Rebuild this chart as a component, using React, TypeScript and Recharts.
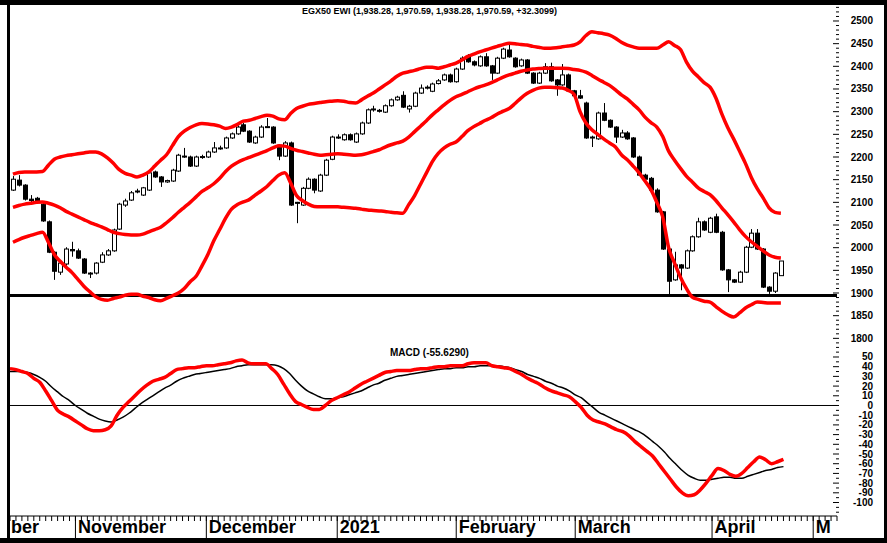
import React from 'react';
import { ComposedChart, Bar, Line, XAxis, YAxis, ReferenceLine } from 'recharts';

const TITLE = 'EGX50 EWI (1,938.28, 1,970.59, 1,938.28, 1,970.59, +32.3099)';
const MACD_TITLE = 'MACD (-55.6290)';
const FONT = '"Liberation Sans", Arial, sans-serif';

// one slot per trading day, the last ones are empty (future dates)
const SLOTS = 140;

// [open, high, low, close]
const candles: number[][] = [
  [2127, 2158, 2125, 2151], [2149, 2160, 2135, 2138], [2138, 2140, 2104, 2107], [2107, 2116, 2100, 2104],
  [2109, 2112, 2098, 2100], [2096, 2100, 2057, 2059], [2057, 2060, 1988, 1990], [1990, 1992, 1929, 1948],
  [1946, 1970, 1940, 1966], [1964, 2001, 1960, 1997], [1996, 2013, 1980, 1993], [1993, 1998, 1975, 1977],
  [1975, 1977, 1942, 1944], [1944, 1946, 1933, 1943], [1944, 1968, 1941, 1966], [1968, 1990, 1966, 1984],
  [1984, 1997, 1982, 1993], [1993, 2042, 1991, 2039], [2041, 2099, 2039, 2096], [2094, 2108, 2090, 2103],
  [2105, 2125, 2103, 2121], [2124, 2130, 2120, 2125], [2116, 2134, 2114, 2132], [2127, 2168, 2125, 2165],
  [2167, 2170, 2154, 2156], [2156, 2158, 2134, 2145], [2145, 2150, 2143, 2148], [2147, 2174, 2145, 2171],
  [2169, 2207, 2167, 2204], [2200, 2220, 2198, 2202], [2200, 2203, 2178, 2180], [2180, 2203, 2178, 2200],
  [2199, 2205, 2196, 2201], [2200, 2214, 2198, 2211], [2211, 2233, 2209, 2220], [2218, 2225, 2216, 2220],
  [2220, 2245, 2218, 2242], [2242, 2254, 2240, 2251], [2251, 2270, 2249, 2266], [2271, 2275, 2255, 2257],
  [2257, 2259, 2231, 2233], [2231, 2247, 2229, 2244], [2244, 2270, 2242, 2266], [2266, 2286, 2264, 2267],
  [2266, 2268, 2229, 2231], [2226, 2228, 2193, 2202], [2202, 2235, 2200, 2231], [2231, 2234, 2092, 2094],
  [2100, 2101, 2054, 2098], [2094, 2134, 2092, 2131], [2131, 2155, 2129, 2151], [2151, 2153, 2120, 2127],
  [2125, 2163, 2123, 2160], [2160, 2196, 2158, 2193], [2195, 2247, 2193, 2244], [2242, 2250, 2240, 2244],
  [2238, 2252, 2236, 2249], [2249, 2252, 2236, 2238], [2233, 2254, 2231, 2251], [2251, 2278, 2249, 2275],
  [2275, 2307, 2273, 2304], [2304, 2313, 2300, 2306], [2303, 2306, 2298, 2301], [2299, 2316, 2297, 2313],
  [2313, 2329, 2311, 2326], [2326, 2335, 2324, 2332], [2336, 2345, 2308, 2310], [2306, 2315, 2298, 2312],
  [2312, 2344, 2310, 2341], [2341, 2360, 2339, 2352], [2352, 2358, 2349, 2354], [2345, 2364, 2343, 2361],
  [2362, 2372, 2360, 2368], [2370, 2384, 2368, 2381], [2381, 2384, 2364, 2366], [2366, 2397, 2364, 2394],
  [2394, 2422, 2392, 2418], [2421, 2427, 2408, 2410], [2410, 2413, 2400, 2403], [2401, 2424, 2399, 2421],
  [2421, 2429, 2399, 2401], [2401, 2403, 2370, 2385], [2385, 2421, 2383, 2418], [2418, 2441, 2416, 2438],
  [2436, 2449, 2419, 2421], [2418, 2420, 2397, 2399], [2401, 2417, 2399, 2414], [2414, 2416, 2383, 2385],
  [2385, 2387, 2361, 2363], [2363, 2388, 2361, 2385], [2385, 2407, 2383, 2399], [2399, 2408, 2366, 2368],
  [2370, 2372, 2335, 2359], [2359, 2405, 2357, 2381], [2381, 2384, 2344, 2346], [2346, 2348, 2333, 2335],
  [2335, 2348, 2328, 2330], [2319, 2322, 2240, 2242], [2243, 2247, 2222, 2244], [2240, 2300, 2238, 2297],
  [2297, 2319, 2279, 2281], [2281, 2283, 2264, 2266], [2266, 2268, 2231, 2244], [2244, 2260, 2242, 2253],
  [2253, 2257, 2238, 2240], [2242, 2244, 2198, 2200], [2200, 2203, 2158, 2160], [2160, 2163, 2149, 2151],
  [2153, 2156, 2125, 2127], [2127, 2131, 2077, 2079], [2079, 2081, 1995, 1997], [1997, 1999, 1895, 1926],
  [1929, 1991, 1927, 1962], [1962, 1964, 1906, 1955], [1955, 1996, 1953, 1993], [1993, 2027, 1991, 2024],
  [2024, 2066, 2022, 2057], [2057, 2060, 2037, 2039], [2034, 2068, 2032, 2065], [2068, 2075, 2032, 2034],
  [2034, 2037, 1949, 1951], [1951, 1953, 1902, 1929], [1929, 1931, 1922, 1924], [1924, 1949, 1922, 1946],
  [1946, 2004, 1944, 2001], [2001, 2041, 1999, 2032], [2032, 2041, 1995, 1997], [1997, 1999, 1911, 1913],
  [1913, 1915, 1898, 1904], [1904, 1946, 1900, 1944], [1938.28, 1970.59, 1938.28, 1970.59],
];

const bbUpper = [
  2162, 2166, 2167, 2167, 2167, 2168, 2182, 2195, 2200, 2203, 2205, 2207, 2209, 2211, 2211, 2207,
  2198, 2186, 2172, 2164, 2160, 2156, 2160, 2167, 2180, 2193, 2205, 2225, 2245, 2257, 2265, 2271,
  2274, 2273, 2271, 2268, 2263, 2266, 2272, 2279, 2281, 2285, 2289, 2292, 2290, 2284, 2282, 2296,
  2307, 2312, 2316, 2318, 2320, 2322, 2323, 2324, 2323, 2320, 2319, 2326, 2334, 2341, 2350, 2359,
  2368, 2378, 2385, 2388, 2391, 2395, 2398, 2398, 2396, 2399, 2403, 2407, 2414, 2422, 2427, 2432,
  2436, 2440, 2444, 2448, 2451, 2450, 2448, 2447, 2444, 2442, 2440, 2440, 2441, 2443, 2445, 2447,
  2454, 2468, 2476, 2474, 2472, 2469, 2462, 2453, 2447, 2443, 2440, 2440, 2440, 2440, 2447, 2454,
  2446, 2437, 2410, 2390, 2377, 2364, 2354, 2330, 2295, 2265, 2240, 2213, 2186, 2155, 2130, 2110,
  2088, 2078, 2076,
];

const bbMiddle = [
  2089, 2093, 2096, 2098, 2100, 2101, 2098, 2094, 2088, 2080, 2074, 2068, 2062, 2056, 2051, 2046,
  2040, 2034, 2031, 2029, 2028, 2028, 2030, 2035, 2040, 2045, 2055, 2066, 2078, 2089, 2100, 2112,
  2124, 2132, 2141, 2153, 2168, 2180, 2188, 2194, 2199, 2204, 2209, 2214, 2220, 2225, 2224, 2219,
  2215, 2212, 2209, 2206, 2204, 2205, 2206, 2207, 2206, 2205, 2204, 2205, 2208, 2212, 2216, 2222,
  2227, 2231, 2235, 2244, 2256, 2268, 2280, 2293, 2304, 2315, 2325, 2333, 2338, 2344, 2350, 2355,
  2359, 2364, 2370, 2376, 2381, 2385, 2389, 2392, 2394, 2395, 2396, 2396, 2396, 2396, 2395, 2393,
  2391, 2387, 2380, 2372, 2365, 2358, 2348, 2337, 2328, 2316, 2304, 2288, 2276, 2266, 2245, 2213,
  2193, 2175, 2158, 2145, 2132, 2124, 2117, 2104, 2088, 2073, 2057, 2040, 2025, 2013, 2003, 1993,
  1984, 1979, 1977,
];

const bbLower = [
  2012, 2018, 2023, 2027, 2031, 2034, 2012, 1985, 1970, 1957, 1945, 1930, 1915, 1903, 1892, 1886,
  1884, 1888, 1891, 1895, 1897, 1897, 1893, 1890, 1885, 1883, 1888, 1894, 1900, 1910, 1925, 1937,
  1960, 1985, 2015, 2040, 2065, 2085, 2095, 2101, 2106, 2116, 2125, 2135, 2148, 2160, 2165, 2143,
  2115, 2104, 2096, 2091, 2090, 2090, 2090, 2090, 2089, 2088, 2087, 2085, 2083, 2082, 2081, 2080,
  2078, 2077, 2076, 2095, 2115, 2140, 2165, 2190, 2208, 2220, 2228, 2233, 2245, 2258, 2267, 2274,
  2281, 2287, 2295, 2301, 2307, 2318, 2330, 2340, 2347, 2352, 2354, 2354, 2353, 2352, 2347, 2338,
  2300, 2275, 2260, 2250, 2240, 2231, 2222, 2205, 2194, 2180, 2165, 2147, 2128, 2100, 2068, 2000,
  1966, 1935, 1910, 1891, 1886, 1882, 1880, 1870, 1860, 1852, 1847, 1856, 1867, 1874, 1880, 1879,
  1878, 1878, 1878,
];

const macdLine = [
  38, 37, 35, 33, 28, 24, 15, 5, -5, -9, -12, -16, -20, -24, -26, -26,
  -25, -21, -10, -2, 4, 10, 16, 21, 25, 27, 29, 33, 37, 38, 39, 39,
  40, 41, 41, 42, 43, 44, 46, 47, 44, 43, 43, 43, 38, 32, 22, 12,
  4, 1, -2, -4, -4, 0, 5, 8, 11, 14, 18, 22, 25, 28, 31, 34,
  35, 36, 36, 36, 37, 38, 38, 39, 40, 40, 41, 41, 41, 43, 44, 44,
  44, 41, 40, 39, 38, 35, 32, 28, 25, 22, 18, 15, 13, 11, 9, 4,
  -2, -10, -15, -17, -19, -22, -25, -27, -31, -37, -42, -47, -52, -60, -68, -76,
  -84, -90, -93, -92, -87, -80, -72, -65, -67, -71, -73, -70, -64, -58, -53, -56,
  -60, -58, -55.6,
];

const signalLine = [
  35, 35, 35, 34, 32, 29, 25, 19, 14, 9, 5, 0, -4, -8, -11, -14,
  -16, -17, -15, -12, -8, -3, 2, 6, 10, 14, 18, 21, 25, 28, 30, 32,
  33, 34, 35, 36, 37, 38, 40, 41, 42, 42, 42, 42, 42, 41, 38, 33,
  26, 20, 15, 12, 9, 7, 7, 8, 9, 11, 13, 15, 18, 21, 23, 26,
  28, 30, 31, 32, 33, 34, 35, 36, 37, 38, 38, 39, 39, 40, 40, 41,
  41, 41, 41, 40, 39, 37, 35, 32, 30, 28, 25, 23, 20, 18, 15, 11,
  8, 3, -2, -7, -10, -13, -16, -19, -22, -25, -28, -32, -37, -42, -48, -55,
  -61, -67, -72, -75, -77, -77, -76, -75, -74, -74, -75, -75, -73, -71, -69, -67,
  -66, -64, -63,
];

// first trading day of each month (slot index); the first one is the cut-off tail of October
const monthStarts = [
  { i: 0, label: 'ber' },
  { i: 11, label: 'November' },
  { i: 33, label: 'December' },
  { i: 55, label: '2021' },
  { i: 75, label: 'February' },
  { i: 95, label: 'March' },
  { i: 118, label: 'April' },
  { i: 135, label: 'M' },
];

const priceLabels = [1800, 1850, 1900, 1950, 2000, 2050, 2100, 2150, 2200, 2250, 2300, 2350, 2400, 2450, 2500];
const macdLabels = [-100, -90, -80, -70, -60, -50, -40, -30, -20, -10, 0, 10, 20, 30, 40, 50];
const SUPPORT = 1894.5;

const PRICE_DOMAIN = [1774.3, 2546.3];
const MACD_DOMAIN = [-113.9, 57.2];
const AXIS_W = 50;

const priceMarks: number[] = [];
for (let v = 1780; v <= 2540; v += 10) priceMarks.push(v);
const macdMarks: number[] = [];
for (let v = -110; v <= 55; v += 5) macdMarks.push(v);

const data = Array.from({ length: SLOTS }, (_, i) => {
  const c = candles[i];
  return {
    i,
    range: c ? [c[2], c[1]] : null,
    open: c ? c[0] : null,
    high: c ? c[1] : null,
    low: c ? c[2] : null,
    close: c ? c[3] : null,
    upper: bbUpper[i] ?? null,
    middle: bbMiddle[i] ?? null,
    lower: bbLower[i] ?? null,
    macd: macdLine[i] ?? null,
    signal: signalLine[i] ?? null,
  };
});

const Candle = (props: any) => {
  const { x, y, width, height, payload } = props;
  if (!payload || payload.high == null) return null;
  const { open, close, high, low } = payload;
  const top = Math.min(y, y + height);
  const h = Math.abs(height);
  const k = high > low ? h / (high - low) : 0;
  const py = (v: number) => top + (high - v) * k;
  const cx = Math.round(x + width / 2) + 0.5;
  const b1 = py(Math.max(open, close));
  const b2 = py(Math.min(open, close));
  const up = close >= open;
  return (
    <g>
      <line x1={cx} x2={cx} y1={top} y2={top + h} stroke="#000" strokeWidth={1} />
      <rect x={cx - 2} y={b1} width={4} height={Math.max(b2 - b1, 1)} fill={up ? '#fff' : '#000'} stroke="#000" strokeWidth={1} />
    </g>
  );
};

const AxisTick = (props: any, labels: number[]) => {
  const { x, y, payload } = props;
  const major = labels.includes(Number(payload.value));
  return (
    <g>
      <line x1={x + (major ? -4 : -1)} x2={x + 2} y1={y} y2={y} stroke="#000" strokeWidth={1} />
      {major && (
        <text x={x + 36} y={y + 3.5} textAnchor="end" fontSize={10} fontWeight="bold" fontFamily={FONT} fill="#000">
          {payload.value}
        </text>
      )}
    </g>
  );
};

const MonthTick = (props: any) => {
  const { x, y, payload } = props;
  const m = monthStarts.find((s) => s.i === payload.value);
  return (
    <g>
      <line x1={x} x2={x} y1={y} y2={y + 5} stroke="#000" strokeWidth={1} />
      {m && m.i > 0 && <line x1={x} x2={x} y1={y} y2={y + 22} stroke="#000" strokeWidth={1} />}
      {m && (
        <text x={m.i === 0 ? 11 : x + 2.5} y={y + 17} fontSize={18} fontWeight="bold" fontFamily={FONT} fill="#000">
          {m.label}
        </text>
      )}
    </g>
  );
};

const band = (key: string) => (
  <Line key={key} dataKey={key} type="monotone" stroke="#ff0000" strokeWidth={3.5} dot={false} activeDot={false} isAnimationActive={false} />
);

export default function App() {
  return (
    <div style={{ position: 'absolute', left: 0, top: 0, width: 887, height: 543, background: '#fff', overflow: 'hidden' }}>
      <div style={{ position: 'absolute', left: 0, top: 0 }}>
        <ComposedChart width={887} height={350} data={data} margin={{ top: 0, right: 0, bottom: 0, left: 10 }}>
          <XAxis dataKey="i" hide />
          <YAxis
            orientation="right"
            width={AXIS_W}
            type="number"
            domain={PRICE_DOMAIN}
            allowDataOverflow
            ticks={priceMarks}
            interval={0}
            tickLine={false}
            axisLine={false}
            tickSize={0}
            tickMargin={0}
            tick={(p: any) => AxisTick(p, priceLabels)}
          />
          <ReferenceLine y={SUPPORT} stroke="#000" strokeWidth={3} />
          <Bar dataKey="range" shape={Candle} isAnimationActive={false} />
          {band('upper')}
          {band('middle')}
          {band('lower')}
        </ComposedChart>
      </div>
      <div style={{ position: 'absolute', left: 0, top: 330 }}>
        <ComposedChart width={887} height={209} data={data} margin={{ top: 20, right: 0, bottom: 0, left: 10 }}>
          <XAxis
            dataKey="i"
            height={23}
            interval={0}
            tickLine={false}
            tickSize={0}
            tickMargin={0}
            axisLine={{ stroke: '#000' }}
            tick={MonthTick}
          />
          <YAxis
            orientation="right"
            width={AXIS_W}
            type="number"
            domain={MACD_DOMAIN}
            allowDataOverflow
            ticks={macdMarks}
            interval={0}
            tickLine={false}
            axisLine={false}
            tickSize={0}
            tickMargin={0}
            tick={(p: any) => AxisTick(p, macdLabels)}
          />
          <ReferenceLine y={0} stroke="#000" strokeWidth={1} />
          <Line dataKey="signal" type="monotone" stroke="#000" strokeWidth={1.5} dot={false} activeDot={false} isAnimationActive={false} />
          <Line dataKey="macd" type="monotone" stroke="#ff0000" strokeWidth={3.5} dot={false} activeDot={false} isAnimationActive={false} />
        </ComposedChart>
      </div>
      <div style={{ position: 'absolute', left: 370, width: 119, top: 347, textAlign: 'center', fontFamily: FONT, fontWeight: 'bold', fontSize: 10, lineHeight: '11px', whiteSpace: 'nowrap' }}>
        {MACD_TITLE}
      </div>
      <div style={{ position: 'absolute', left: 10, width: 839, top: 6, textAlign: 'center', fontFamily: FONT, fontWeight: 'bold', fontSize: 9, lineHeight: '10px' }}>
        {TITLE}
      </div>
      <div style={{ position: 'absolute', left: 0, top: 0, width: 887, height: 5, background: '#000' }} />
      <div style={{ position: 'absolute', left: 0, top: 538, width: 887, height: 5, background: '#000' }} />
      <div style={{ position: 'absolute', left: 884, top: 0, width: 3, height: 543, background: '#000' }} />
      <div style={{ position: 'absolute', left: 7, top: 0, width: 3, height: 543, background: '#000' }} />
    </div>
  );
}
